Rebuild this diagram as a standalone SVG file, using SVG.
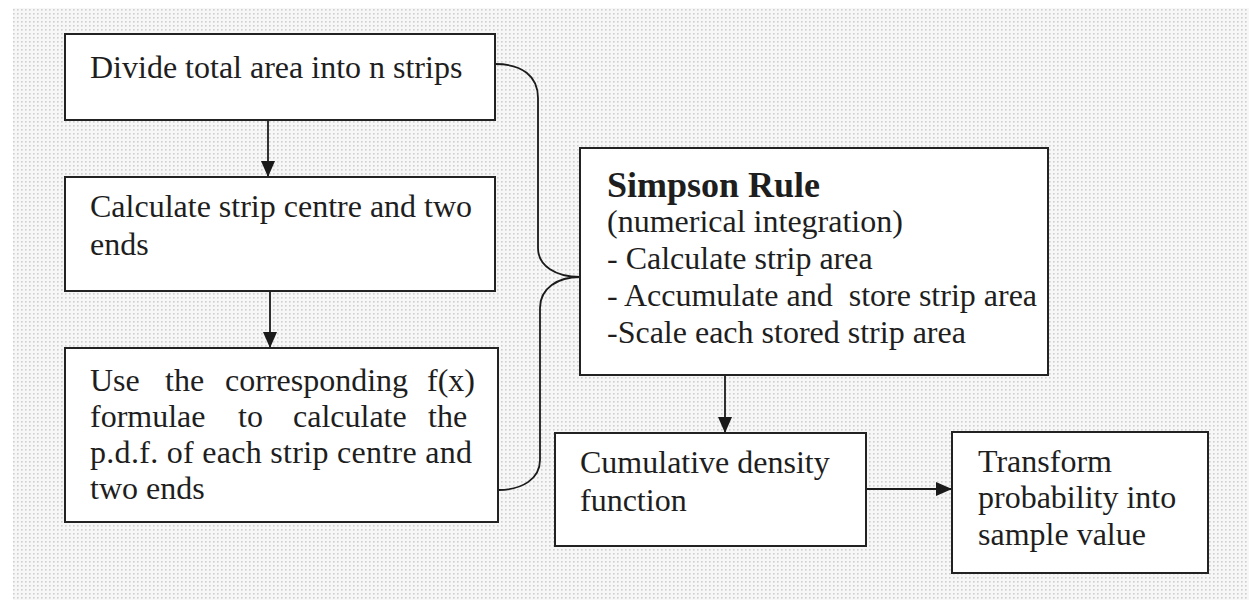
<svg xmlns="http://www.w3.org/2000/svg" width="1249" height="600" viewBox="0 0 1249 600">
  <defs>
    <!-- fine halftone dot texture for the backdrop -->
    <pattern id="dots" x="0" y="0" width="4" height="4" patternUnits="userSpaceOnUse">
      <rect width="4" height="4" fill="#f7f7f7"/>
      <rect x="1" y="1" width="1.6" height="1.6" fill="#cfcfcf"/>
    </pattern>
    <marker id="arrow" viewBox="0 0 16 14" refX="16" refY="7" markerWidth="16" markerHeight="14" markerUnits="userSpaceOnUse" orient="auto">
      <path d="M0,0 L16,7 L0,14 Z" fill="#1a1a1a"/>
    </marker>
    <style>
      .box { fill: #ffffff; stroke: #222222; stroke-width: 2; }
      .txt { font-family: "Liberation Serif", "Times New Roman", serif; font-size: 32px; fill: #1e1e1e; }
      .bold { font-weight: bold; font-size: 36px; }
      .link { fill: none; stroke: #1a1a1a; stroke-width: 1.8; }
    </style>
  </defs>

  <rect width="1249" height="600" fill="#ffffff"/>
  <rect x="13" y="8" width="1236" height="592" fill="url(#dots)"/>

  <g id="connectors">
    <line class="link" x1="268" y1="120" x2="268" y2="177" marker-end="url(#arrow)"/>
    <line class="link" x1="270" y1="291" x2="270" y2="348" marker-end="url(#arrow)"/>
    <line class="link" x1="725" y1="375" x2="725" y2="433" marker-end="url(#arrow)"/>
    <line class="link" x1="866" y1="489" x2="952" y2="489" marker-end="url(#arrow)"/>
    <!-- brace joining the first and third steps into the integration box -->
    <path class="link" d="M495,64 C522,64 538,76 538,98 L538,248 C538,266 556,277 580,277 C558,277 540,288 540,308 L540,460 C540,479 522,490 498,490"/>
  </g>

  <g id="divide">
    <rect class="box" x="65" y="34" width="430" height="86"/>
    <text class="txt" x="90" y="78">Divide total area into n strips</text>
  </g>

  <g id="centre">
    <rect class="box" x="65" y="177" width="430" height="114"/>
    <text class="txt" x="90" y="217">Calculate strip centre and two</text>
    <text class="txt" x="90" y="255">ends</text>
  </g>

  <g id="pdf">
    <rect class="box" x="65" y="348" width="433" height="174"/>
    <text class="txt" y="391"><tspan x="90">Use</tspan><tspan x="165">the</tspan><tspan x="225">corresponding</tspan><tspan x="427">f(x)</tspan></text>
    <text class="txt" y="427"><tspan x="90">formulae</tspan><tspan x="238">to</tspan><tspan x="293">calculate</tspan><tspan x="428">the</tspan></text>
    <text class="txt" x="90" y="463" textLength="382" lengthAdjust="spacing">p.d.f. of each strip centre and</text>
    <text class="txt" x="90" y="499">two ends</text>
  </g>

  <g id="simpson">
    <rect class="box" x="580" y="148" width="468" height="227"/>
    <text class="txt bold" x="607" y="197">Simpson Rule</text>
    <text class="txt" x="607" y="232">(numerical integration)</text>
    <text class="txt" x="607" y="269">- Calculate strip area</text>
    <text class="txt" x="607" y="306" xml:space="preserve">- Accumulate and  store strip area</text>
    <text class="txt" x="607" y="343">-Scale each stored strip area</text>
  </g>

  <g id="cdf">
    <rect class="box" x="555" y="433" width="311" height="113"/>
    <text class="txt" x="580" y="473">Cumulative density</text>
    <text class="txt" x="580" y="511">function</text>
  </g>

  <g id="transform">
    <rect class="box" x="952" y="432" width="256" height="141"/>
    <text class="txt" x="978" y="472">Transform</text>
    <text class="txt" x="978" y="508">probability into</text>
    <text class="txt" x="978" y="545">sample value</text>
  </g>
</svg>
